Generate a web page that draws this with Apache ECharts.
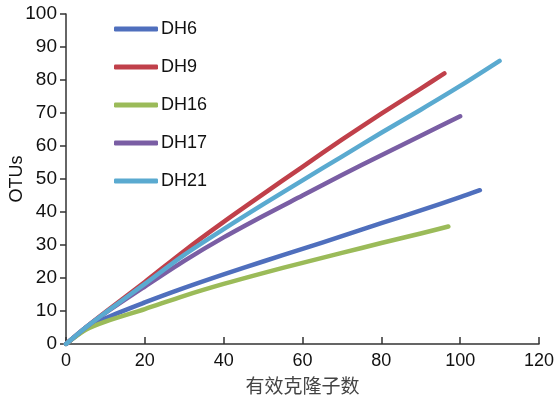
<!DOCTYPE html>
<html>
<head>
<meta charset="utf-8">
<script src="https://cdn.jsdelivr.net/npm/echarts@6/dist/echarts.min.js"></script>
<style>
html, body { margin: 0; padding: 0; background: #fff; }
#box { width: 557px; height: 400px; }
</style>
</head>
<body>
<div id="box"></div>
<script>
// 稀释曲线数据
var seriesNames = ['DH6', 'DH9', 'DH16', 'DH17', 'DH21'];
var xTicks = [0, 20, 40, 60, 80, 100, 120];

var dh6X = [0, 5, 10, 20, 30, 40, 50, 60, 70, 80, 90, 100, 105];
var dh6Y = [0, 4.6, 7.8, 12.6, 17, 21.1, 25, 28.8, 32.7, 36.6, 40.5, 44.5, 46.6];

var dh9X = [0, 5, 10, 20, 30, 40, 50, 60, 70, 80, 90, 96];
var dh9Y = [0, 5, 9.7, 18.8, 28.2, 37, 45.4, 53.7, 61.9, 69.8, 77.4, 82];

var dh16X = [0, 5, 10, 20, 30, 40, 50, 60, 70, 80, 90, 97];
var dh16Y = [0, 4.3, 6.8, 10.6, 14.6, 18.2, 21.5, 24.6, 27.6, 30.6, 33.5, 35.6];

var dh17X = [0, 5, 10, 20, 30, 40, 50, 60, 70, 80, 90, 100];
var dh17Y = [0, 5, 9.4, 17.4, 25.2, 32.3, 38.8, 45, 51.2, 57.2, 63.1, 69];

var dh21X = [0, 5, 10, 20, 30, 40, 50, 60, 70, 80, 90, 100, 110];
var dh21Y = [0, 5, 9.5, 18.2, 27, 34.8, 42.3, 49.6, 56.8, 64, 71, 78.2, 85.8];

var colors = ['#4f6fbd', '#c0404a', '#9bbb59', '#7a5ea4', '#5aaad0'];

function pairs(xs, ys) {
	return xs.map(function (x, i) { return [x, ys[i]]; });
}

var allData = [pairs(dh6X, dh6Y), pairs(dh9X, dh9Y), pairs(dh16X, dh16Y), pairs(dh17X, dh17Y), pairs(dh21X, dh21Y)];

var myChart = echarts.init(document.getElementById('box'));
var option = {
	animation: false,
	color: colors,
	textStyle: { fontFamily: 'Liberation Sans, Arial, sans-serif' },
	grid: { left: 66, right: 18, top: 14, bottom: 56, outerBoundsMode: 'none', containLabel: false },
	legend: {
		orient: 'vertical',
		left: 109,
		top: 15,
		icon: 'roundRect',
		itemWidth: 44,
		itemHeight: 5,
		itemGap: 20,
		data: seriesNames,
		textStyle: { fontSize: 18, color: '#111', padding: [0, 0, 0, -2] }
	},
	xAxis: {
		type: 'value',
		min: 0,
		max: 120,
		interval: 20,
		name: '有效克隆子数',
		nameLocation: 'middle',
		nameGap: 32,
		nameMoveOverlap: false,
		nameTextStyle: { fontSize: 19, color: '#444', fontFamily: 'Noto Sans CJK SC' },
		axisLine: { lineStyle: { color: '#333', width: 1.5 } },
		axisTick: { inside: true, length: 7, lineStyle: { color: '#333', width: 1.5 } },
		axisLabel: {
			fontSize: 18, color: '#111', margin: 8,
			formatter: function (v) { return xTicks.indexOf(v) >= 0 ? String(v) : ''; }
		},
		splitLine: { show: false }
	},
	yAxis: {
		type: 'value',
		min: 0,
		max: 100,
		interval: 10,
		name: 'OTUs',
		nameLocation: 'middle',
		nameGap: 40,
		nameMoveOverlap: false,
		nameTextStyle: { fontSize: 18, color: '#111' },
		axisLine: { show: true, lineStyle: { color: '#333', width: 1.5 } },
		axisTick: { show: true, length: 6, lineStyle: { color: '#333', width: 1.5 } },
		axisLabel: { fontSize: 19, color: '#111', margin: 9 },
		splitLine: { show: false }
	},
	series: seriesNames.map(function (name, i) {
		return {
			name: name,
			type: 'line',
			smooth: 0.3,
			showSymbol: false,
			lineStyle: { width: 4.5, cap: 'round', join: 'round' },
			data: allData[i]
		};
	})
};
myChart.setOption(option);
</script>
</body>
</html>
